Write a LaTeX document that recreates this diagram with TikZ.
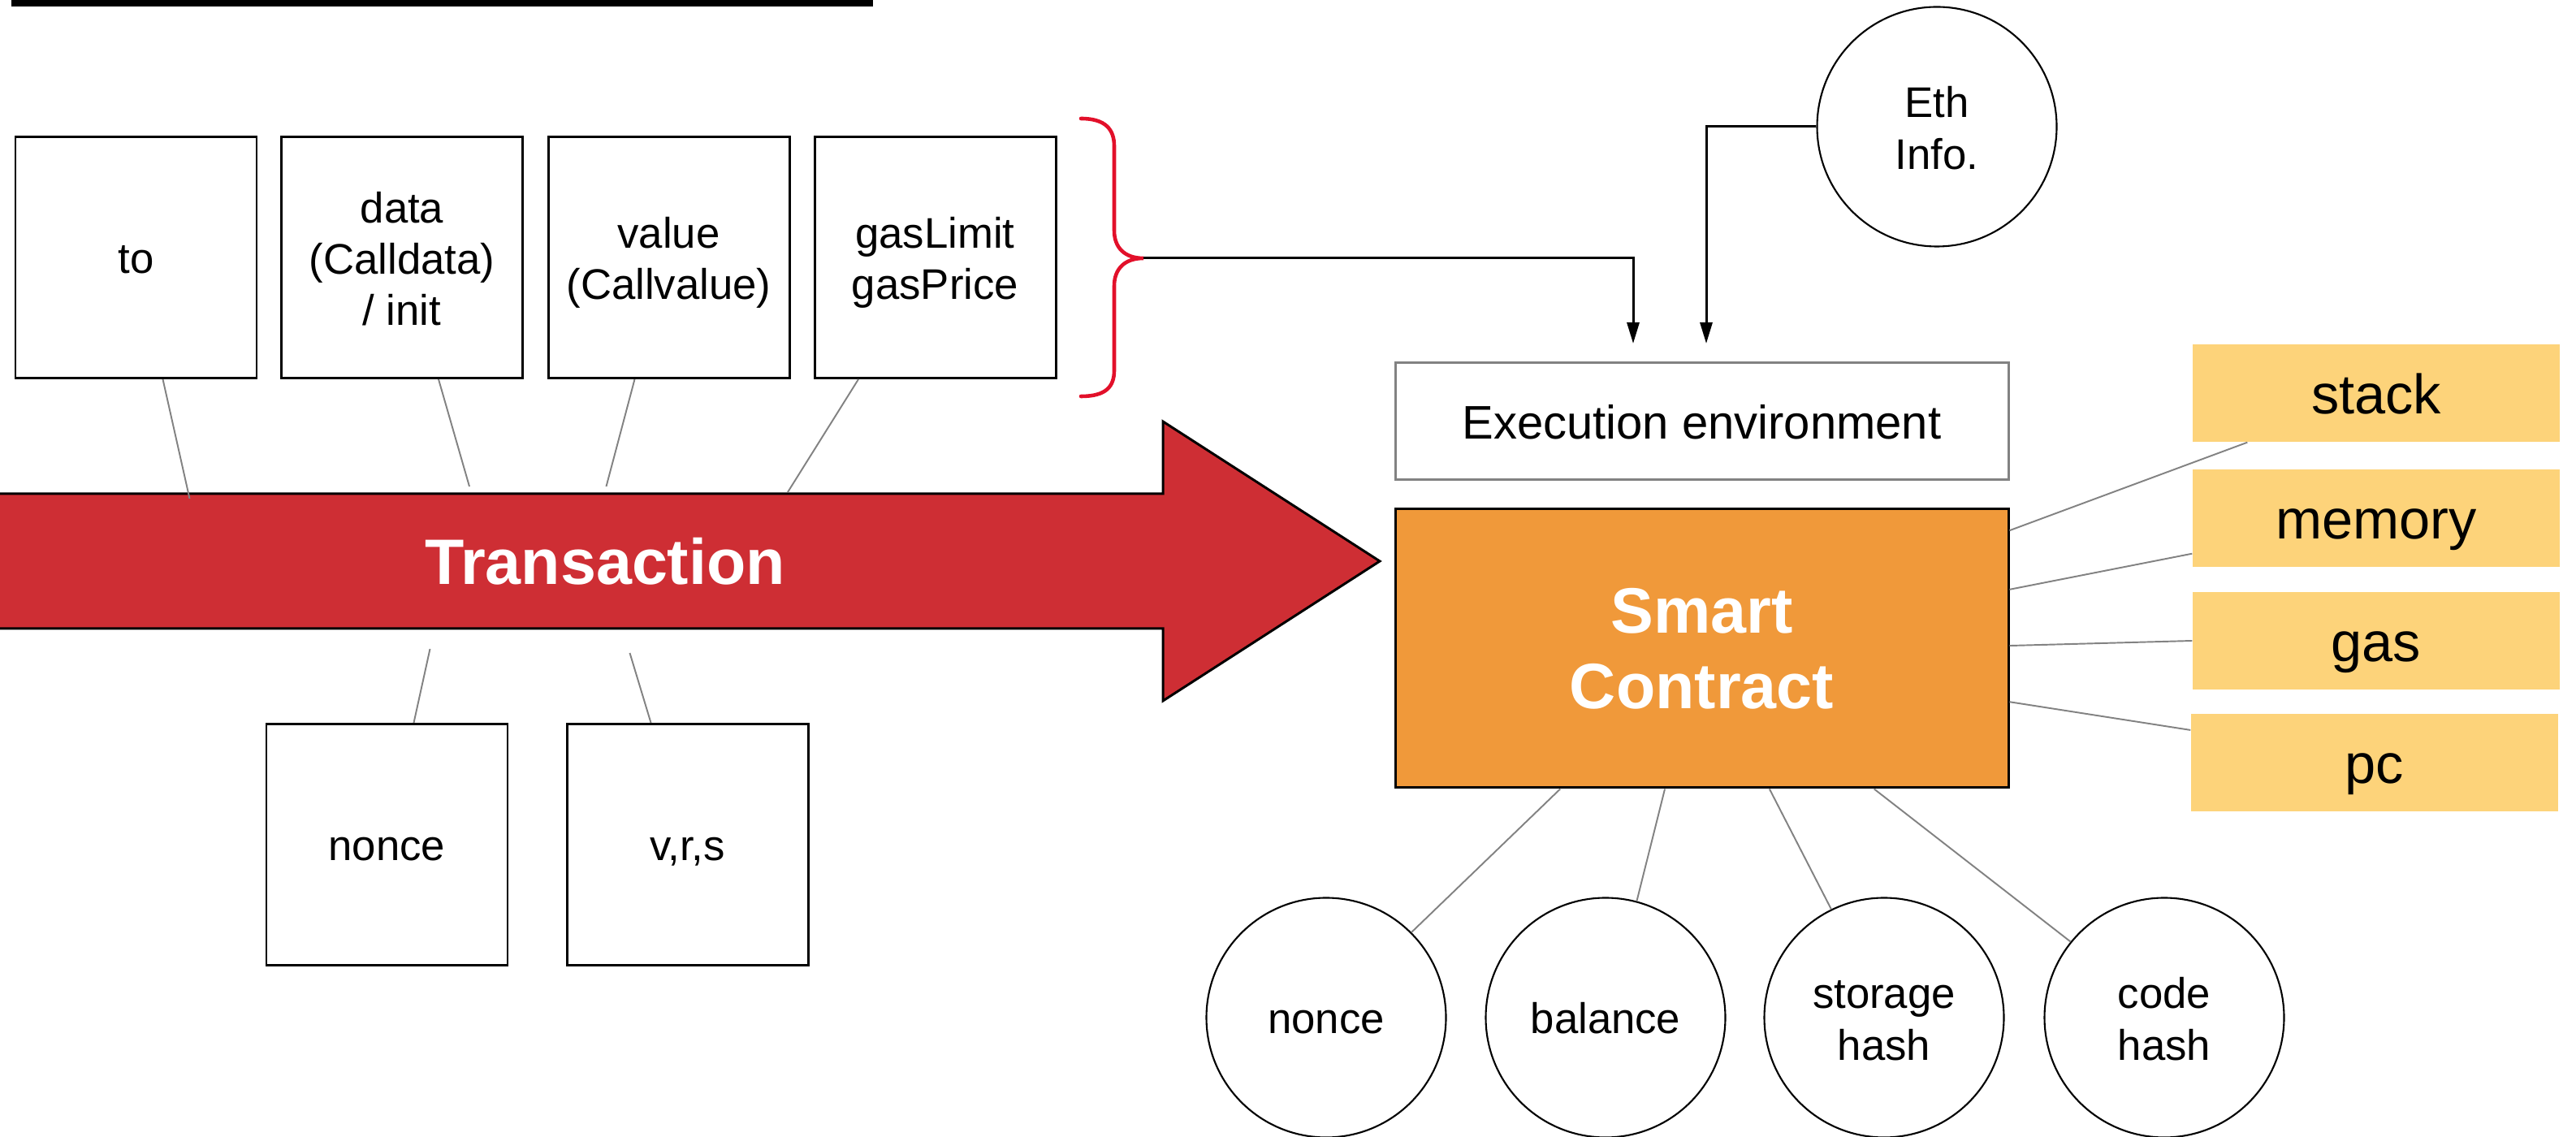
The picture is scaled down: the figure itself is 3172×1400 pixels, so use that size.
\documentclass[tikz,border=0pt]{standalone}
\usepackage{fontspec}
\setmainfont{Liberation Sans}
\usetikzlibrary{arrows.meta,calc}

\definecolor{txred}{RGB}{206,46,52}
\definecolor{scorange}{RGB}{240,153,58}
\definecolor{slotyellow}{RGB}{253,211,122}
\definecolor{bracered}{RGB}{226,16,42}
\definecolor{linkgray}{RGB}{130,130,130}

\tikzset{
  strutted/.style={execute at begin node={\rule[-0.2em]{0pt}{1.14em}},
    execute at end node={\rule[-0.2em]{0pt}{1.14em}}},
  lowered/.style={execute at begin node={\rule{0pt}{#1}}},
  field/.style={strutted,draw=black,line width=0.85pt,minimum width=29.7mm,minimum height=29.7mm,
    align=center,font=\fontsize{15}{18}\selectfont},
  acct/.style={strutted,circle,draw=black,line width=0.6pt,minimum size=29.5mm,inner sep=0pt,
    align=center,font=\fontsize{15}{18}\selectfont},
  slot/.style={strutted,fill=slotyellow,minimum width=45.2mm,minimum height=12mm,
    font=\fontsize{19.5}{22}\selectfont},
  link/.style={draw=linkgray,line width=0.55pt},
  feed/.style={draw=black,line width=0.85pt,-{Triangle[length=2.6mm,width=1.5mm]}},
}

\begin{document}
\begin{tikzpicture}[x=0.1mm,y=-0.1mm]
\useasboundingbox (0,0) rectangle (3172,1400);
\fill[black] (14,0) rectangle (1075,8);

% transaction arrow
\filldraw[fill=txred,draw=black,line width=0.85pt]
  (-20,608) -- (1432,608) -- (1432,519) -- (1699,691) -- (1432,863) -- (1432,774) -- (-20,774) -- cycle;
\node[text=white,font=\bfseries\fontsize{22.5}{27}\selectfont] (tx) at (745,691) {Transaction};

% transaction fields
\node[field] (to) at (167.5,317) {to};
\node[field,lowered=3.38em] (data) at (495,317) {data\\(Calldata)\\/ init};
\node[field,lowered=2.18em] (value) at (823.5,317) {value\\(Callvalue)};
\node[field,lowered=2.18em] (gaslim) at (1151.5,317) {gasLimit\\gasPrice};
\node[field] (nonce) at (476.5,1040) {nonce};
\node[field] (vrs) at (846.5,1040) {v,r,s};

\draw[link] ($(to.south west)!0.61!(to.south east)$) -- ++(33,147);
\draw[link] ($(data.south west)!0.65!(data.south east)$) -- ++(38,132);
\draw[link] ($(value.south west)!0.36!(value.south east)$) -- ++(-35,132);
\draw[link] ($(gaslim.south west)!0.185!(gaslim.south east)$) -- ++(-87,139);
\draw[link] ($(nonce.north west)!0.61!(nonce.north east)$) -- ++(20,-91);
\draw[link] ($(vrs.north west)!0.35!(vrs.north east)$) -- ++(-26,-86);

% brace
\draw[bracered,line width=1.3pt,line cap=round]
  (1331,146) .. controls (1362,146) and (1372,160) .. (1372,180) -- (1372,284)
  .. controls (1372,305) and (1385,318) .. (1408,318)
  .. controls (1385,318) and (1372,331) .. (1372,352) -- (1372,456)
  .. controls (1372,476) and (1362,488) .. (1331,488);
\coordinate (tip) at (1408,318);

% contract side
\node[strutted,draw=linkgray,line width=0.85pt,minimum width=75.5mm,minimum height=14.4mm,
  font=\fontsize{16.5}{20}\selectfont] (env) at (2095.5,519) {Execution environment};
\node[fill=scorange,draw=black,line width=0.85pt,minimum width=75.5mm,minimum height=34.3mm,
  text=white,align=center,font=\bfseries\fontsize{22.5}{26.5}\selectfont] (sc) at (2095.5,798.5) {Smart\\Contract};
\node[acct,lowered=2.18em] (eth) at (2385,156) {Eth\\Info.};

\coordinate (in1) at (2011,423);
\coordinate (in2) at (2101,423);
\draw[feed] (tip) -| (in1);
\draw[feed] (eth.west) -| (in2);

\node[slot] (stack) at (2926,484) {stack};
\node[slot] (memory) at (2926,638) {memory};
\node[slot] (gas) at (2926,789) {gas};
\node[slot] (pc) at (2924,939) {pc};

\draw[link] ($(sc.north east)!0.08!(sc.south east)$) -- ($(stack.south west)!0.15!(stack.south east)$);
\draw[link] ($(sc.north east)!0.29!(sc.south east)$) -- ($(memory.north west)!0.86!(memory.south west)$);
\draw[link] ($(sc.north east)!0.49!(sc.south east)$) -- (gas.west);
\draw[link] ($(sc.north east)!0.69!(sc.south east)$) -- ($(pc.north west)!0.17!(pc.south west)$);

\node[acct] (c1) at (1633,1253) {nonce};
\node[acct] (c2) at (1977,1253) {balance};
\node[acct,lowered=2.18em] (c3) at (2320,1253) {storage\\hash};
\node[acct,lowered=2.18em] (c4) at (2665,1253) {code\\hash};

\draw[link] ($(sc.south west)!0.27!(sc.south east)$) -- (c1.45);
\draw[link] ($(sc.south west)!0.44!(sc.south east)$) -- (c2.75);
\draw[link] ($(sc.south west)!0.61!(sc.south east)$) -- (c3.116);
\draw[link] ($(sc.south west)!0.78!(sc.south east)$) -- (c4.141);
\end{tikzpicture}
\end{document}
